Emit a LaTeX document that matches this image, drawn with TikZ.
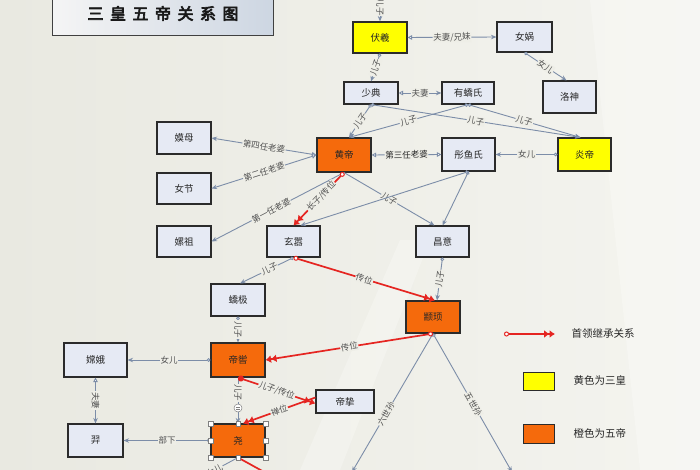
\documentclass[tikz,border=0pt]{standalone}
\usepackage{fontspec}
\setmainfont{Noto Sans CJK SC}
\newfontfamily\cjk{Noto Sans CJK SC}
\newfontfamily\cjktitle[FakeBold=4]{Noto Sans CJK SC}
\usetikzlibrary{arrows.meta,shadings}
\definecolor{bgc}{HTML}{EEEEE7}
\definecolor{bgl}{HTML}{E9E9E1}
\definecolor{bgr}{HTML}{F4F4EF}
\definecolor{boxfill}{HTML}{E6EAF4}
\definecolor{boxline}{HTML}{2B2B2B}
\definecolor{orangec}{HTML}{F56A0C}
\definecolor{yellowc}{HTML}{FFFF00}
\definecolor{linec}{HTML}{7C8DA8}
\definecolor{labelc}{HTML}{505050}
\definecolor{redc}{HTML}{E52521}
\tikzset{
 box/.style={draw=boxline, line width=1.1pt, fill=boxfill, inner sep=0pt, font=\cjk\fontsize{9.5}{10}\selectfont, text=black!85},
 obox/.style={box, fill=orangec},
 ybox/.style={box, fill=yellowc},
 con/.style={draw=linec, line width=0.9pt},
 cs/.style={con, {Circle[length=3.6pt,fill=white]}-{Stealth[length=5.5pt,width=4.5pt]}},
 ce/.style={con, -{Stealth[length=5.5pt,width=4.5pt]}},
 ct/.style={con, {Triangle[length=4.5pt,width=4.5pt,fill=white]}-{Stealth[length=5.5pt,width=4.5pt]}},
 ctt/.style={con, {Triangle[length=4.5pt,width=4.5pt,fill=white]}-{Triangle[length=4.5pt,width=4.5pt,fill=white]}},
 rc/.style={draw=redc, line width=1.7pt, {Circle[length=5pt,fill=white,line width=1pt]}-{Latex[length=5.5pt,width=8pt] Latex[length=5.5pt,width=8pt]}},
 rcf/.style={draw=redc, line width=1.7pt, {Circle[length=6pt,fill=redc]}-{Latex[length=5.5pt,width=8pt] Latex[length=5.5pt,width=8pt]}},
 rcn/.style={draw=redc, line width=1.7pt, -{Latex[length=5.5pt,width=8pt] Latex[length=5.5pt,width=8pt]}},
 lbl/.style={fill=bgc, inner sep=0.6pt, font=\cjk\fontsize{8.5}{9}\selectfont, text=labelc, sloped},
 legtext/.style={anchor=west, font=\cjk\fontsize{10.5}{11}\selectfont, text=black!85},
 handle/.style={draw=gray, fill=white, line width=0.4pt, minimum size=4.5pt, inner sep=0pt},
}
\begin{document}
\begin{tikzpicture}[x=1pt,y=-1pt]
\useasboundingbox (0,0) rectangle (700,470);
% background
\shade[left color=bgl, right color=bgr] (0,0) rectangle (700,470);
\fill[white, opacity=0.25] (300,470) -- (400,240) -- (430,240) -- (340,470) -- cycle;
\fill[white, opacity=0.25] (590,0) -- (700,0) -- (700,470) -- (640,470) -- cycle;
% title
\shade[left color=white!92!gray, right color={rgb,255:red,205;green,214;blue,226}, draw=black!75, line width=1pt] (52,-12) rectangle (273,36);
\node[font=\cjktitle\fontsize{16}{16}\selectfont, text=black!90] (title) at (163,13.5) {三\hspace{6.5pt}皇\hspace{6.5pt}五\hspace{6.5pt}帝\hspace{6.5pt}关\hspace{6.5pt}系\hspace{6.5pt}图};
% nodes
\node[ybox, minimum width=54pt, minimum height=31pt] (fuxi) at (380,37.5) {伏羲};
\node[box, minimum width=55pt, minimum height=30pt] (nuwa) at (524.5,37) {女娲};
\node[box, minimum width=54pt, minimum height=22pt] (shaodian) at (371,93) {少典};
\node[box, minimum width=52pt, minimum height=22pt] (youjiao) at (468,93) {有蟜氏};
\node[box, minimum width=53pt, minimum height=32pt] (luoshen) at (569.5,97) {洛神};
\node[box, minimum width=54pt, minimum height=32pt] (momu) at (184,138) {嫫母};
\node[box, minimum width=54pt, minimum height=31pt] (nvjie) at (184,188.5) {女节};
\node[box, minimum width=54pt, minimum height=31pt] (leizu) at (184,241.5) {嫘祖};
\node[obox, minimum width=54pt, minimum height=34pt] (huangdi) at (344,155) {黄帝};
\node[box, minimum width=53pt, minimum height=33pt] (tongyu) at (468.5,154.5) {彤鱼氏};
\node[ybox, minimum width=53pt, minimum height=33pt] (yandi) at (584.5,154.5) {炎帝};
\node[box, minimum width=53pt, minimum height=31pt] (xuanxiao) at (293.5,241.5) {玄嚣};
\node[box, minimum width=53pt, minimum height=31pt] (changyi) at (442.5,241.5) {昌意};
\node[box, minimum width=54pt, minimum height=32pt] (jiaoji) at (238,300) {蟜极};
\node[obox, minimum width=54pt, minimum height=32pt] (zhuanxu) at (433,317) {颛顼};
\node[obox, minimum width=54pt, minimum height=34pt] (diku) at (238,360) {帝喾};
\node[box, minimum width=63pt, minimum height=34pt] (change) at (95.5,360) {嫦娥};
\node[box, minimum width=58pt, minimum height=23pt] (dizhi) at (345,401.5) {帝挚};
\node[obox, minimum width=54pt, minimum height=33pt] (yao) at (238,440.5) {尧};
\node[box, minimum width=55pt, minimum height=33pt] (yi) at (95.5,440.5) {羿};
% free ends
\coordinate (topin) at (380,-2);
\coordinate (sunL) at (352,472);
\coordinate (sunR) at (512,472);
\coordinate (yaoDL) at (200,478);
\coordinate (yaoDR) at (275,478);
% gray connectors
\draw[ce] (topin) -- node[lbl, pos=0.4]{儿子} (fuxi.north);
\draw[ct] (fuxi.east) -- node[lbl]{夫妻/兄妹} (nuwa.west);
\draw[cs] (fuxi.south) -- node[lbl]{儿子} (shaodian.north);
\draw[cs] (nuwa.south) -- node[lbl]{女儿} ([xshift=-3pt]luoshen.north);
\draw[ct] (shaodian.east) -- node[lbl]{夫妻} (youjiao.west);
\draw[cs] (shaodian.south) -- node[lbl]{儿子} ([xshift=5pt]huangdi.north);
\draw[cs] (youjiao.south) -- node[lbl]{儿子} ([xshift=5pt]huangdi.north);
\draw[cs] (shaodian.south) -- node[lbl]{儿子} ([xshift=-4pt]yandi.north);
\draw[cs] (youjiao.south) -- node[lbl]{儿子} ([xshift=-4pt]yandi.north);
\draw[ct] (huangdi.west) -- node[lbl]{第四任老婆} (momu.east);
\draw[ct] (huangdi.west) -- node[lbl]{第二任老婆} (nvjie.east);
\draw[ce] (huangdi.south) -- node[lbl, pos=0.55]{第一任老婆} (leizu.east);
\draw[ctt] (huangdi.east) -- node[lbl, text=black!85]{第三任老婆} (tongyu.west);
\draw[cs] (yandi.west) -- node[lbl]{女儿} (tongyu.east);
\draw[ce] (huangdi.south) -- node[lbl]{儿子} ([xshift=-8pt]changyi.north);
\draw[cs] (tongyu.south) -- ([xshift=0pt]changyi.north);
\draw[cs] (tongyu.south) -- ([xshift=7pt]xuanxiao.north);
\draw[cs] (xuanxiao.south) -- node[lbl, pos=0.45]{儿子} ([xshift=2pt]jiaoji.north);
\draw[cs] (changyi.south) -- node[lbl]{儿子} ([xshift=4pt]zhuanxu.north);
\draw[cs] (zhuanxu.south) -- node[lbl, pos=0.58]{六世孙} (sunL);
\draw[cs] (zhuanxu.south) -- node[lbl, pos=0.51]{五世孙} (sunR);
\draw[cs] (jiaoji.south) -- node[lbl]{儿子} (diku.north);
\draw[cs] (diku.west) -- node[lbl]{女儿} (change.east);
\draw[ce] (diku.south) -- node[lbl, pos=0.33]{儿子} (yao.north);
\draw[ct] (change.south) -- node[lbl]{夫妻} (yi.north);
\draw[cs] (yao.west) -- node[lbl]{部下} (yi.east);
\draw[con] (yao.south) -- node[lbl, pos=0.62]{女儿} (yaoDL);
% rotate gadget
\node[circle, draw=gray, fill=white, line width=0.5pt, minimum size=8pt, inner sep=0pt] (gad) at (238,408) {};
\draw[gray, line width=0.5pt] ([xshift=-2.2pt,yshift=-1.2pt]gad.center) -- ([xshift=2.2pt,yshift=-1.2pt]gad.center);
\draw[gray, line width=0.5pt] ([xshift=-2.2pt,yshift=1.2pt]gad.center) -- ([xshift=2.2pt,yshift=1.2pt]gad.center);
% red succession connectors
\draw[rc] (huangdi.south) -- node[lbl, pos=0.45]{长子/传位} (xuanxiao.north);
\draw[rc] (xuanxiao.south) -- node[lbl]{传位} ([xshift=2pt]zhuanxu.north);
\draw[rc] (zhuanxu.south) -- node[lbl]{传位} (diku.east);
\draw[rcf] (diku.south) -- node[lbl]{儿子/传位} ([yshift=-2pt]dizhi.west);
\draw[rcn] ([yshift=4pt]dizhi.west) -- node[lbl]{禅位} ([xshift=5pt]yao.north);
\draw[draw=redc, line width=1.7pt] (yao.south) -- (yaoDR);
% selection handles on yao
\foreach \a in {north west,north,north east,west,east,south west,south,south east}
  \node[handle] at (yao.\a) {};
% legend
\coordinate (lgA) at (504,334);
\coordinate (lgB) at (555,334);
\draw[rc] (lgA) -- (lgB);
\node[legtext] (lg1) at (568,334) {首领继承关系};
\node[draw=boxline, line width=0.8pt, fill=yellowc, minimum width=31pt, minimum height=18pt, inner sep=0pt] (lgy) at (538.5,381) {};
\node[legtext] (lg2) at (570,381) {黄色为三皇};
\node[draw=boxline, line width=0.8pt, fill=orangec, minimum width=31pt, minimum height=19pt, inner sep=0pt] (lgo) at (538.5,433.5) {};
\node[legtext] (lg3) at (570,433.5) {橙色为五帝};
\end{tikzpicture}
\end{document}
